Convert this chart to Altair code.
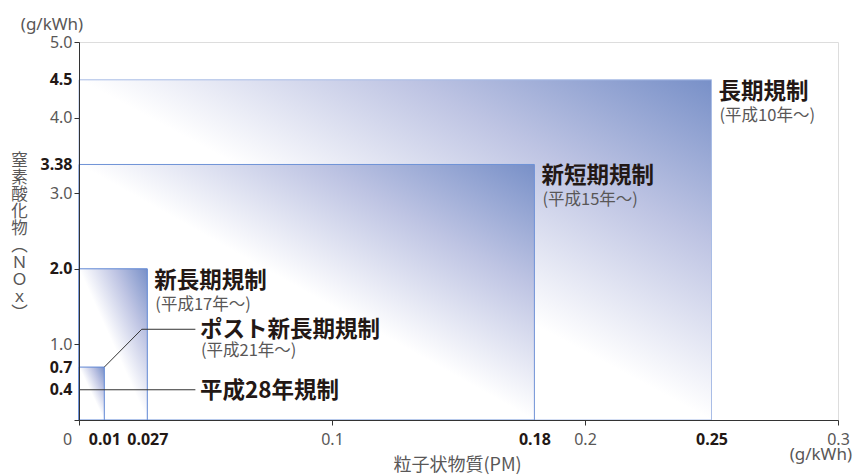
import altair as alt
import pandas as pd

# ---- data ----
regulations = ["長期規制", "新短期規制", "新長期規制", "ポスト新長期規制", "平成28年規制"]
years = ["(平成10年〜)", "(平成15年〜)", "(平成17年〜)", "(平成21年〜)", ""]
pm_limit = [0.25, 0.18, 0.027, 0.01, 0.01]
nox_limit = [4.5, 3.38, 2.0, 0.7, 0.4]
edge_colors = ["#a9bde6", "#6f92d6", "#5f87d4", "#5f87d4"]

# leader lines for the two small regulations (annotation paths)
leader_id = ["post", "post", "post", "h28", "h28"]
leader_order = [0, 1, 2, 0, 1]
leader_x = [0.01, 0.0248, 0.046, 0.0, 0.046]
leader_y = [0.7, 1.2, 1.2, 0.4, 0.4]
leader_label_x = [0.0478, 0.0478]
leader_label_y = [1.2, 0.4]

x_ticks = [0, 0.01, 0.027, 0.1, 0.18, 0.2, 0.25, 0.3]
y_ticks = [0, 0.4, 0.7, 1.0, 2.0, 3.0, 3.38, 4.0, 4.5, 5.0]
x_bold = [0.01, 0.027, 0.18, 0.25]
y_bold = [0.4, 0.7, 2.0, 3.38, 4.5]
x_tick_shown = [0, 0.1, 0.2, 0.3]
y_tick_shown = [0, 1.0, 2.0, 3.0, 4.0, 5.0]

y_title_chars = ["窒", "素", "酸", "化", "物", "︵", "Ｎ", "Ｏ", "ｘ", "︶"]
x_title = "粒子状物質(PM)"
unit = "(g/kWh)"

# ---- styles ----
JP = "Noto Sans CJK JP"
NUM = "Noto Sans"
DARK = "#231815"
GREY = "#595757"

def js_list(v):
    return "[" + ",".join(repr(float(a)) for a in v) + "]"

xs = alt.Scale(domain=[0, 0.3], nice=False, zero=False)
ys = alt.Scale(domain=[0, 5.0], nice=False, zero=False)

x_axis = alt.Axis(
    values=x_ticks,
    labelExpr="datum.value == 0 ? '0' : format(datum.value, '~g')",
    labelFont=NUM, labelFontSize=16, labelPadding=6,
    labelFontWeight={"condition": {"test": f"indexof({js_list(x_bold)}, datum.value) >= 0", "value": "bold"}, "value": "normal"},
    labelColor={"condition": {"test": f"indexof({js_list(x_bold)}, datum.value) >= 0", "value": DARK}, "value": GREY},
    labelOffset={"condition": {"test": "datum.value == 0", "value": -12}, "value": 0},
    tickOpacity={"condition": {"test": f"indexof({js_list(x_tick_shown)}, datum.value) >= 0", "value": 1}, "value": 0},
    tickSize=5, tickColor="#333333", domainColor="#333333", grid=False, zindex=1,
    labelOverlap=False, labelFlush=False,
    title=x_title, titleFont=JP, titleFontSize=18, titleFontWeight="normal", titleColor=GREY,
    titleX=378, titleY=45, titleAlign="center", titleBaseline="middle", titleAnchor=None,
)
y_axis = alt.Axis(
    values=y_ticks,
    labelExpr="datum.value == 0 ? '' : (datum.value == 3.38 ? '3.38' : format(datum.value, '.1f'))",
    labelFont=NUM, labelFontSize=16, labelPadding=2,
    labelFontWeight={"condition": {"test": f"indexof({js_list(y_bold)}, datum.value) >= 0", "value": "bold"}, "value": "normal"},
    labelColor={"condition": {"test": f"indexof({js_list(y_bold)}, datum.value) >= 0", "value": DARK}, "value": GREY},
    tickOpacity={"condition": {"test": f"indexof({js_list(y_tick_shown)}, datum.value) >= 0", "value": 1}, "value": 0},
    tickSize=5, tickColor="#333333", domainColor="#333333", grid=False, zindex=1,
    labelOverlap=False, labelFlush=False,
    title=y_title_chars, titleAngle=0, titleFont=JP, titleFontSize=16.5, titleFontWeight="normal",
    titleColor=GREY, titleX=-60, titleY=110, titleAlign="center", titleBaseline="top",
    titleLineHeight=17,
)

def X(field):
    return alt.X(field, type="quantitative", scale=xs, axis=x_axis)

def Y(field):
    return alt.Y(field, type="quantitative", scale=ys, axis=y_axis)

n_rect = 4
rect_df = pd.DataFrame({
    "name": regulations[:n_rect],
    "x0": [0.0] * n_rect,
    "pm": pm_limit[:n_rect],
    "y0": [0.0] * n_rect,
    "nox": nox_limit[:n_rect],
    "edge": edge_colors,
    "order": list(range(n_rect)),
})

gradient = alt.Gradient(
    gradient="linear",
    stops=[
        alt.GradientStop(offset=0, color="#ffffff"),
        alt.GradientStop(offset=0.5, color="#ffffff"),
        alt.GradientStop(offset=0.76, color="#bec4e3"),
        alt.GradientStop(offset=1, color="#7890c8"),
    ],
    x1=0, y1=1, x2=1, y2=0,
)

rects = alt.Chart(rect_df).mark_rect(fill=gradient, strokeWidth=1).encode(
    x=X("x0"), x2="pm", y=Y("y0"), y2="nox",
    stroke=alt.Stroke("edge:N", scale=None, legend=None),
    order=alt.Order("order:Q"),
)

leader_df = pd.DataFrame({"id": leader_id, "o": leader_order, "x": leader_x, "y": leader_y})
leaders = alt.Chart(leader_df).mark_line(color="#333333", strokeWidth=1).encode(
    x=X("x"), y=Y("y"), detail="id:N", order="o:Q",
)

big_df = pd.DataFrame({"name": regulations[:3], "year": years[:3], "x": pm_limit[:3], "y": nox_limit[:3]})
big_main = alt.Chart(big_df).mark_text(
    align="left", baseline="top", dx=7, dy=1, font=JP, fontSize=22.5, fontWeight="bold", color=DARK
).encode(x=X("x"), y=Y("y"), text="name:N")
big_sub = alt.Chart(big_df).mark_text(
    align="left", baseline="top", dx=8, dy=28, font=JP, fontSize=16.5, color=GREY
).encode(x=X("x"), y=Y("y"), text="year:N")

small_df = pd.DataFrame({"name": regulations[3:], "year": years[3:], "x": leader_label_x, "y": leader_label_y})
small_main = alt.Chart(small_df).mark_text(
    align="left", baseline="middle", dx=0, dy=1, font=JP, fontSize=22.5, fontWeight="bold", color=DARK
).encode(x=X("x"), y=Y("y"), text="name:N")
small_sub = alt.Chart(small_df).mark_text(
    align="left", baseline="top", dx=1, dy=14, font=JP, fontSize=16.5, color=GREY
).encode(x=X("x"), y=Y("y"), text="year:N")

unit_df = pd.DataFrame({"t": [unit]})
unit_top = alt.Chart(unit_df).mark_text(
    align="center", baseline="middle", font=NUM, fontSize=17, color=GREY
).encode(x=alt.value(-27), y=alt.value(-17), text="t:N")
unit_right = alt.Chart(unit_df).mark_text(
    align="right", baseline="middle", font=NUM, fontSize=17, color=GREY
).encode(x=alt.value(773), y=alt.value(36 + 378 - 1), text="t:N")

chart = alt.layer(
    rects, leaders, big_main, big_sub, small_main, small_sub, unit_top, unit_right
).properties(
    width=759, height=378,
    autosize=alt.AutoSizeParams(type="none"),
    padding={"left": 79, "top": 42, "right": 15, "bottom": 55},
).configure_view(stroke=None).configure(background="white")

chart.save("out.html", embed_options={"renderer": "svg", "actions": False})
